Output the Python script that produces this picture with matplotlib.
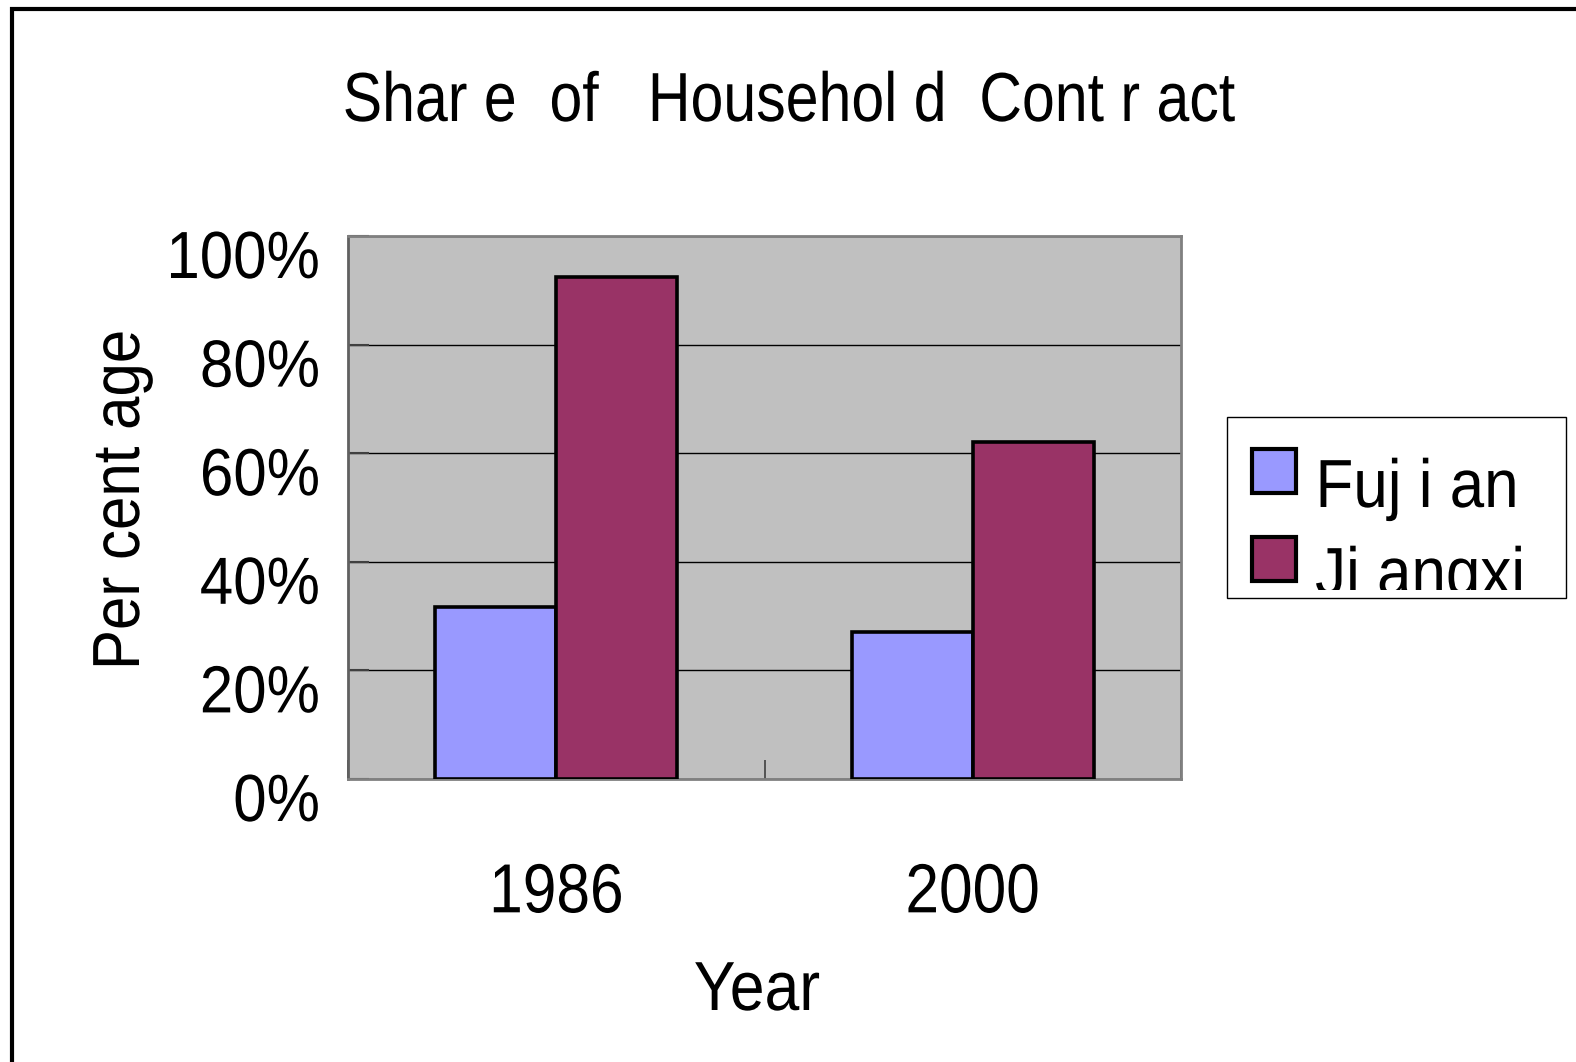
import matplotlib
matplotlib.use('Agg')
import matplotlib.pyplot as plt
from matplotlib.patches import Rectangle
from matplotlib.patheffects import AbstractPathEffect
from matplotlib.ticker import PercentFormatter, FixedLocator
from matplotlib.transforms import Affine2D, ScaledTranslation

plt.rcParams['font.family'] = ['Liberation Sans', 'DejaVu Sans']

years = ['1986', '2000']
fujian = [0.317, 0.271]
jiangxi = [0.924, 0.621]
series = ['Fuj i an', 'Ji angxi']
colors = ['#9999FF', '#993366']

W, H = 1576, 1062


class Squeeze(AbstractPathEffect):
    """Draw glyphs narrowed horizontally, pinned at the left, centre or right."""

    def __init__(self, sx, anchor='center'):
        super().__init__()
        self.sx = sx
        self.anchor = anchor

    def draw_path(self, renderer, gc, tpath, affine, rgbFace=None):
        ext = tpath.get_extents()
        cx = {'left': ext.x0, 'right': ext.x1}.get(self.anchor, (ext.x0 + ext.x1) / 2)
        sq = Affine2D().translate(-cx, 0).scale(self.sx, 1).translate(cx, 0)
        renderer.draw_path(gc, tpath, sq + affine, rgbFace)


def fx(px):
    return px / W


def fy(py):
    return 1 - py / H


fig = plt.figure(figsize=(W / 100, H / 100), dpi=100)

# outer chart frame (runs off the right and bottom edges)
fig.patches.append(Rectangle((fx(12), -0.2), 1.5, 0.2 + fy(8.5), transform=fig.transFigure,
                             fill=False, edgecolor='black', linewidth=3))

ax = fig.add_axes([fx(348), fy(779), fx(1181) - fx(348), fy(236) - fy(779)])
ax.set_facecolor('#C0C0C0')

x = range(len(years))
bw = 0.29
b1 = ax.bar([i - bw / 2 for i in x], fujian, bw, color=colors[0], edgecolor='black', linewidth=2.6, zorder=3)
b2 = ax.bar([i + bw / 2 for i in x], jiangxi, bw, color=colors[1], edgecolor='black', linewidth=2.6, zorder=3)

ax.set_xlim(-0.5, 1.5)
ax.set_ylim(0, 1)
ax.set_yticks([0, 0.2, 0.4, 0.6, 0.8, 1.0])
ax.yaxis.set_major_formatter(PercentFormatter(xmax=1, decimals=0))
ax.yaxis.grid(True, color='black', linewidth=1.0)
ax.set_axisbelow(True)

ax.set_xticks(list(x))
ax.set_xticklabels(years)
ax.xaxis.set_minor_locator(FixedLocator([-0.5, 0.5, 1.5]))
ax.tick_params(axis='x', which='major', length=0, pad=60, labelsize=50)
ax.tick_params(axis='x', which='minor', direction='in', length=14, width=1.2, color='#404040')
ax.tick_params(axis='y', direction='in', length=15, width=1.5, color='#404040', pad=20, labelsize=48)

for lab in ax.get_xticklabels():
    lab.set_path_effects([Squeeze(0.87)])

# y labels sit just below their gridlines
for lab in ax.get_yticklabels():
    lab.set_va('top')
    lab.set_transform(lab.get_transform() + ScaledTranslation(0, 0.06, fig.dpi_scale_trans))
    lab.set_path_effects([Squeeze(0.9, 'right')])

for side in ['top', 'right', 'bottom']:
    ax.spines[side].set_color('#808080')
    ax.spines[side].set_linewidth(2)
ax.spines['left'].set_color('#606060')
ax.spines['left'].set_linewidth(2)

fig.text(fx(789), fy(121), 'Shar e  of   Househol d  Cont r act', fontsize=50,
         ha='center', va='baseline', path_effects=[Squeeze(0.85)])
fig.text(fx(757), fy(960), 'Year', fontsize=50, ha='center', va='top',
         path_effects=[Squeeze(0.9)])
fig.text(fx(139), fy(500), 'Per cent age', fontsize=48, rotation=90,
         rotation_mode='anchor', ha='center', va='baseline', path_effects=[Squeeze(0.9)])

# legend box
box = Rectangle((fx(1227), fy(598)), fx(1566) - fx(1227), fy(417) - fy(598),
                transform=fig.transFigure, facecolor='white', edgecolor='black', linewidth=1)
fig.patches.append(box)
clip = Rectangle((fx(1227), fy(590)), fx(1566) - fx(1227), fy(417) - fy(590),
                 transform=fig.transFigure, fill=False, linewidth=0)
fig.patches.append(clip)
for k, (name, bars) in enumerate(zip(series, [b1, b2])):
    top = 449 + 88 * k
    fig.patches.append(Rectangle((fx(1252), fy(top + 44)), fx(44), 44 / H,
                                 transform=fig.transFigure,
                                 facecolor=bars.patches[0].get_facecolor(),
                                 edgecolor='black', linewidth=3))
    t = fig.text(fx(1315), fy(507 + 88 * k), name, fontsize=49, ha='left', va='baseline',
                 path_effects=[Squeeze(0.91, 'left')])
    t.set_clip_path(clip)

fig.savefig('out.png', dpi=100)
